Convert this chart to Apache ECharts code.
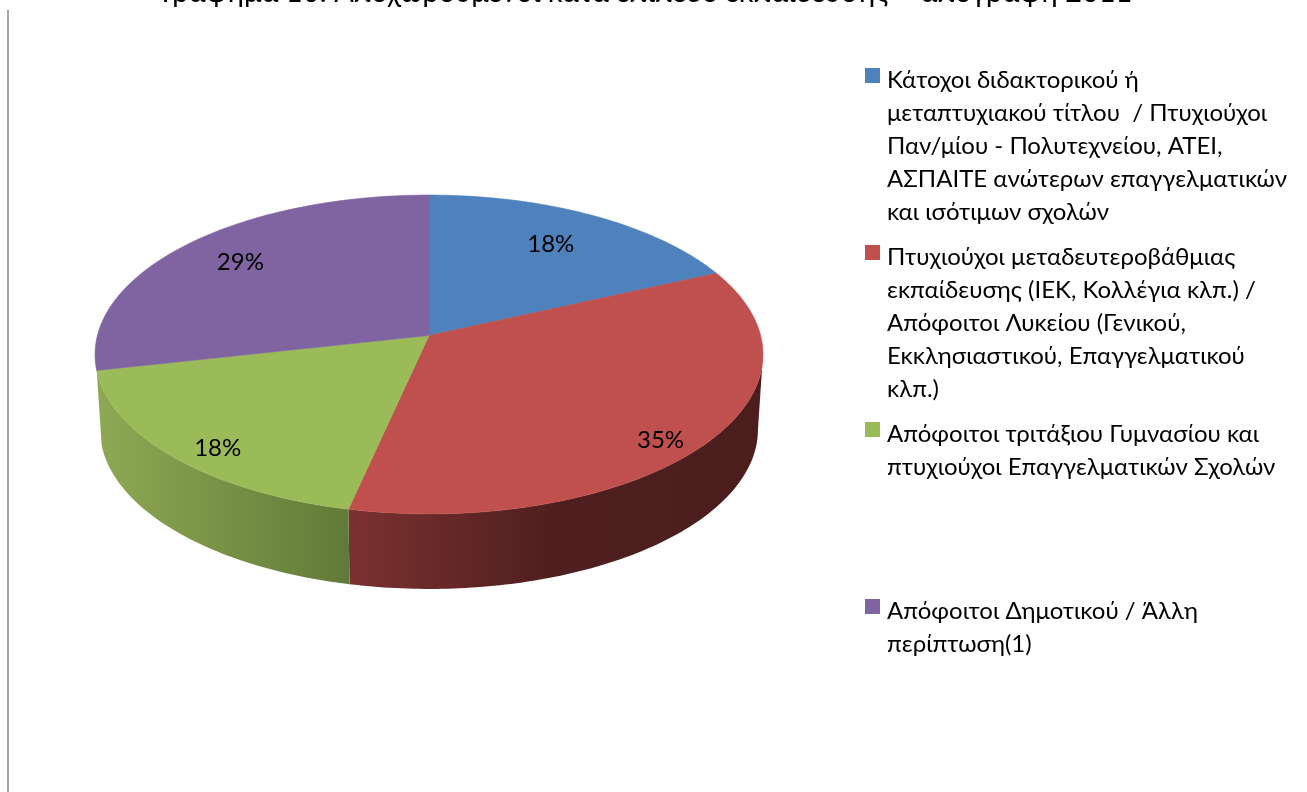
<!DOCTYPE html>
<html>
<head>
<meta charset="utf-8">
<script src="https://cdn.jsdelivr.net/npm/echarts@6/dist/echarts.min.js"></script>
<style>html,body{margin:0;padding:0;background:#fff}#chart{width:1307px;height:792px}</style>
</head>
<body>
<div id="chart"></div>
<script>
const titleText = 'Γράφημα 10: Αποχωρούμενοι κατά επίπεδο εκπαίδευσης – απογραφή 2011';
const categories = [
  'Κάτοχοι διδακτορικού ή\nμεταπτυχιακού τίτλου  / Πτυχιούχοι\nΠαν/μίου - Πολυτεχνείου, ΑΤΕΙ,\nΑΣΠΑΙΤΕ ανώτερων επαγγελματικών\nκαι ισότιμων σχολών',
  'Πτυχιούχοι μεταδευτεροβάθμιας\nεκπαίδευσης (ΙΕΚ, Κολλέγια κλπ.) /\nΑπόφοιτοι Λυκείου (Γενικού,\nΕκκλησιαστικού, Επαγγελματικού\nκλπ.)',
  'Απόφοιτοι τριτάξιου Γυμνασίου και\nπτυχιούχοι Επαγγελματικών Σχολών',
  'Απόφοιτοι Δημοτικού / Άλλη\nπερίπτωση(1)'
];
const shares = [18.2, 35.3, 18.1, 28.5];
const colors = ['#4f81bd', '#c0504d', '#9bbb59', '#8064a2'];
const legendTops = [64, 241, 418, 595];
const labelRadius = [0.74, 0.895, 0.885, 0.78];
const labelTurnDeg = [-0.5, 4.8, -3.4, 0.7];

const FONT = 'Lato, Carlito, "Noto Sans", sans-serif';
const FONT_SIZE = 24, TITLE_SIZE = 29, LINE = 33;
const CX = 429, CY = 335.5, A = 331.6, B = 157.2, K = 0.119, DEPTH = 75, BOTTOM_SCALE = 0.985;

const wallFills = [
  null,
  {type:'linear', global:true, x:349, y:0, x2:763, y2:0, colorStops:[
    {offset:0, color:'#7a3130'},{offset:0.5, color:'#4e1f1e'},{offset:1, color:'#4b1e1d'}]},
  {type:'linear', global:true, x:97, y:0, x2:349, y2:0, colorStops:[
    {offset:0, color:'#8ea954'},{offset:1, color:'#627a38'}]},
  null
];

function project(angle, r) {
  const u = r * Math.sin(angle), v = r * Math.cos(angle), w = 1 + K * v;
  return [CX + A * u / w, CY - B * v / w];
}
function arcPoints(a0, a1, n) {
  const pts = [];
  for (let s = 0; s <= n; s++) pts.push(project(a0 + (a1 - a0) * s / n, 1));
  return pts;
}
function renderSlice(params, api) {
  const i = params.seriesIndex;
  const total = shares.reduce((a, b) => a + b, 0);
  const start = api.value(0), value = api.value(1);
  const a0 = start / total * Math.PI * 2, a1 = (start + value) / total * Math.PI * 2;
  const n = Math.max(8, Math.ceil(value * 3));
  const rim = arcPoints(a0, a1, n);
  const mid = (a0 + a1) / 2 + labelTurnDeg[i] * Math.PI / 180;
  const lp = project(mid, labelRadius[i]);
  const children = [];
  if (wallFills[i]) {
    // only the part of the rim that faces the viewer gets a side wall
    const front = Math.acos(-K);
    const wallRim = arcPoints(Math.max(a0, front), Math.min(a1, Math.PI * 2 - front), n);
    const lower = wallRim.map(p => [CX + (p[0] - CX) * BOTTOM_SCALE, p[1] + DEPTH]).reverse();
    children.push({type:'polygon', z2:1, shape:{points: wallRim.concat(lower)},
      style:{fill: wallFills[i], stroke: null}});
  }
  children.push({type:'polygon', z2:5, shape:{points: [[CX, CY]].concat(rim)},
    style:{fill: colors[i], stroke: colors[i], lineWidth: 0.6}});
  children.push({type:'text', z2:10, style:{text: Math.round(value) + '%', x: lp[0], y: lp[1],
    align:'center', verticalAlign:'middle', fontSize: FONT_SIZE, fontFamily: FONT, fill:'#000'}});
  return {type:'group', children};
}
function legendIcon(lines) {
  const h = lines * LINE;
  return 'path://M0 4H15V19H0Z M0 0h0.01v0.01h-0.01z M17 ' + h + 'h-0.01v-0.01h0.01z';
}
let running = 0;
const series = categories.map((name, i) => {
  const item = {name, value: [running, shares[i]]};
  running += shares[i];
  return {type:'custom', name, coordinateSystem:'none', renderItem: renderSlice,
    itemStyle:{color: colors[i]}, data:[item], silent:true, animation:false};
});
const legend = categories.map((name, i) => {
  const lines = name.split('\n').length;
  return {data:[name], left:865, top:legendTops[i], padding:0, orient:'vertical',
    itemWidth:17, itemHeight:lines * LINE, icon:legendIcon(lines), selectedMode:false,
    textStyle:{fontFamily:FONT, fontSize:FONT_SIZE, lineHeight:LINE, color:'#000'}};
});
const chart = echarts.init(document.getElementById('chart'), null, {renderer:'canvas'});
chart.setOption({
  animation:false,
  backgroundColor:'#fff',
  title:{text:titleText, left:647, top:-22, textAlign:'center', padding:0,
    textStyle:{fontFamily:FONT, fontSize:TITLE_SIZE, fontWeight:'normal', color:'#000'}},
  legend,
  series,
  graphic:[{type:'line', silent:true, shape:{x1:8, y1:10, x2:8, y2:792},
    style:{stroke:'#a6a6a6', lineWidth:2}}]
});
</script>
</body>
</html>
